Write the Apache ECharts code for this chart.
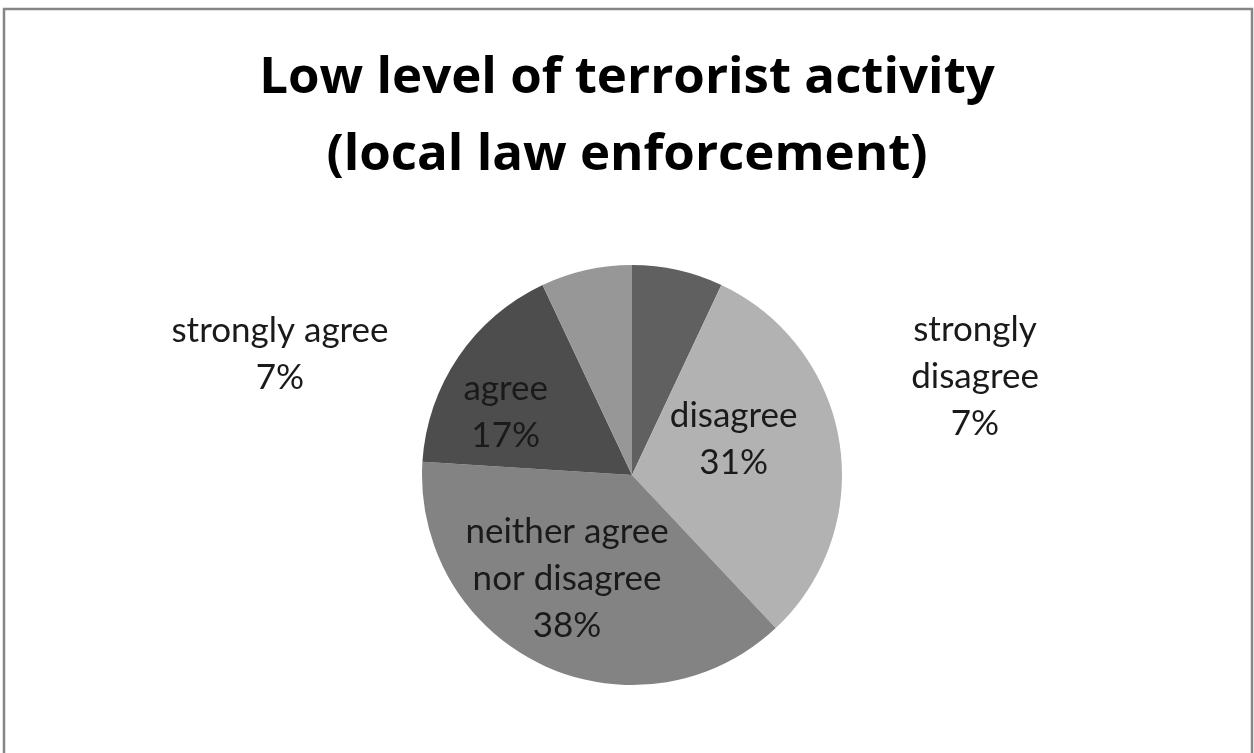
<!DOCTYPE html>
<html>
<head>
<meta charset="utf-8">
<style>
  html, body { margin: 0; padding: 0; background: #ffffff; }
  #chart { width: 1254px; height: 753px; }
</style>
<script src="https://cdn.jsdelivr.net/npm/echarts@6/dist/echarts.min.js"></script>
</head>
<body>
<div id="chart"></div>
<script>
// Survey responses, clockwise from 12 o'clock
const categories = ['strongly disagree', 'disagree', 'neither agree\nnor disagree', 'agree', 'strongly agree'];
const percents = [7, 31, 38, 17, 7];
const sliceColors = ['#606060', '#b2b2b2', '#838383', '#4d4d4d', '#979797'];
const titleText = 'Low level of terrorist activity\n(local law enforcement)';

const LABEL_FONT = 'Lato, "Open Sans", sans-serif';
const TITLE_FONT = '"Open Sans", Lato, sans-serif';

// nudges for the inside labels
const labelShift = {
  1: { dx: -5, dy: -19 },
  2: { dx: -19, dy: 6 },
  3: { dx: -37, dy: -2 }
};

const chart = echarts.init(document.getElementById('chart'), null, { renderer: 'canvas' });

const data = categories.map((name, i) => ({
  name: i === 0 ? 'strongly\ndisagree' : name,
  value: percents[i],
  itemStyle: { color: sliceColors[i] }
}));

chart.setOption({
  animation: false,
  backgroundColor: '#ffffff',
  graphic: [{
    type: 'rect',
    shape: { x: 4, y: 9, width: 1248, height: 770 },
    style: { fill: 'none', stroke: '#868686', lineWidth: 2.5 },
    z: 100
  }],
  title: {
    text: titleText,
    left: 'center',
    top: 35,
    textStyle: {
      fontFamily: TITLE_FONT,
      fontWeight: 'bold',
      fontSize: 51,
      lineHeight: 77,
      color: '#000000'
    }
  },
  series: [{
    type: 'pie',
    center: [632, 475],
    radius: 210,
    startAngle: 90,
    clockwise: true,
    data: data,
    label: {
      show: true,
      position: 'inside',
      formatter: p => p.name + '\n' + p.value + '%',
      fontFamily: LABEL_FONT,
      fontSize: 35,
      lineHeight: 47,
      color: '#1a1a1a',
      align: 'center'
    },
    labelLine: { show: false },
    labelLayout: function (params) {
      const i = params.dataIndex;
      if (i === 0) {
        return { x: 975, y: 377, align: 'center', verticalAlign: 'middle' };
      }
      if (i === 4) {
        return { x: 280, y: 354, align: 'center', verticalAlign: 'middle' };
      }
      return labelShift[i] || {};
    },
    emphasis: { disabled: true }
  }]
});
</script>
</body>
</html>
